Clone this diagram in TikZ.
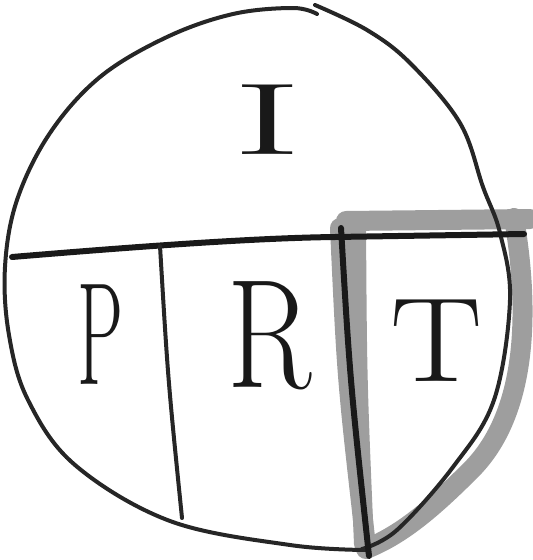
\documentclass[tikz,border=0pt]{standalone}
\begin{document}
\begin{tikzpicture}[x=1pt,y=-1pt,
  ink/.style={line width=4pt,line cap=round,line join=round,black!85},
  thick ink/.style={line width=6pt,line cap=round,line join=round,black!90},
  shade/.style={line width=20pt,line cap=round,line join=round,black!38},
  letter/.style={inner sep=0pt,black!90}]
\useasboundingbox (0,0) rectangle (533,560);
% grey highlight of the T region
\draw[shade] (346,221) -- (530,219);
\draw[shade] (340,228) .. controls (347,380) .. (366,546);
\draw[shade] (356,222) .. controls (357,380) .. (364,544);
\draw[shade] (514,218) .. controls (533,330) and (521,420) .. (471,470)
  .. controls (431,510) and (401,535) .. (366,549);
% circle, drawn in two strokes
\draw[ink] plot[smooth,tension=0.6] coordinates {(317,14) (293,8) (233,14) (167,37) (100,77)
  (50,133) (17,200) (5,267) (9,335) (28,400) (75,465) (170,521) (290,545) (366,550)};
\draw[ink] plot[smooth,tension=0.6] coordinates {(315,5) (367,30) (410,63) (460,123)
  (483,187) (500,233) (510,300) (494,400) (453,467) (397,530) (362,549)};
% divisions
\draw[thick ink] (12,257) .. controls (120,248) and (250,238) .. (335,237) -- (524,234);
\draw[ink] (160,246) .. controls (168,380) .. (182,518);
\draw[thick ink] (341,228) .. controls (350,380) .. (369,556);
% letters
\node[letter] (I) at (268,120) {\fontsize{102}{102}\selectfont\scalebox{2.1}[1]{I}};
\node[letter] (P) at (100,335) {\fontsize{146}{146}\selectfont\scalebox{0.5}[1]{P}};
\node[letter] (R) at (270,336) {\fontsize{155}{155}\selectfont\scalebox{0.8}[1]{R}};
\node[letter] (T) at (437,341) {\fontsize{120}{120}\selectfont\scalebox{1.15}[1]{T}};
\end{tikzpicture}
\end{document}
